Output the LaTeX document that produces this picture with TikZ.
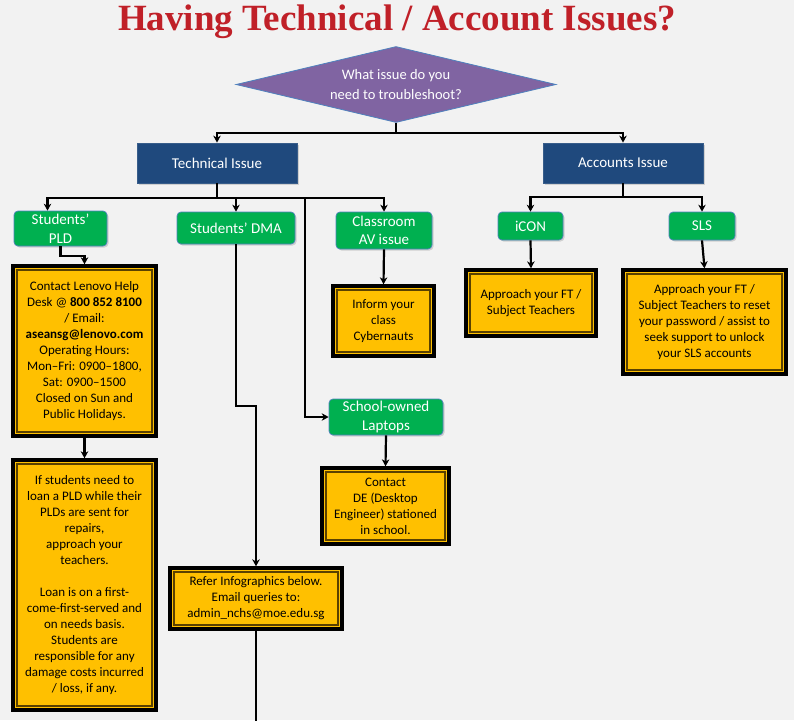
\documentclass[tikz,border=0pt]{standalone}
\usepackage{fontspec}
\setmainfont{Carlito}
\newfontfamily\titlefont{Liberation Serif}
\usetikzlibrary{arrows.meta,shapes.geometric,shadows}
\definecolor{bg}{HTML}{F2F2F2}
\definecolor{titlered}{RGB}{192,32,40}
\definecolor{qpurple}{HTML}{8064A2}
\definecolor{qborder}{HTML}{4F81BD}
\definecolor{dblue}{HTML}{1F497D}
\definecolor{dblueb}{HTML}{385D8A}
\definecolor{gbox}{HTML}{00B050}
\definecolor{ybox}{HTML}{FFC000}
\definecolor{innerc}{RGB}{90,65,0}
\tikzset{
  question/.style={diamond, draw=qborder, line width=0.8pt, fill=qpurple, text=white,
    aspect=4.2, inner sep=0pt, minimum width=320pt, minimum height=76pt, align=center,
    font=\fontsize{14.5}{20}\selectfont},
  catbox/.style={rectangle, draw=dblueb, line width=0.8pt, fill=dblue, text=white,
    minimum width=160pt, minimum height=40pt, font=\fontsize{15}{18}\selectfont,
    drop shadow={shadow xshift=1.5pt, shadow yshift=-1.5pt, opacity=0.3}},
  subbox/.style={rectangle, rounded corners=4pt, draw=qborder, line width=0.7pt, fill=gbox,
    text=white, align=center, inner sep=2pt, font=\fontsize{15}{18.5}\selectfont,
    drop shadow={shadow xshift=1.5pt, shadow yshift=-1.5pt, opacity=0.3}},
  infobox/.style={rectangle, draw=black, line width=3.5pt, fill=ybox, text=black,
    align=center, inner sep=2pt, outer sep=0pt, font=\fontsize{13}{16}\selectfont,
    drop shadow={shadow xshift=2pt, shadow yshift=-2pt, opacity=0.35}},
  innerline/.style={draw=innerc, line width=1.1pt},
  conn/.style={draw=black, line width=2.2pt},
  arr/.style={conn, -{Stealth[length=7pt,width=7.5pt]}},
}
\begin{document}
\begin{tikzpicture}[x=1pt,y=-1pt]
\fill[bg] (0,0) rectangle (794,720);
\useasboundingbox (0,0) rectangle (794,720);

\node[font=\titlefont\bfseries\fontsize{37}{40}\selectfont, text=titlered, anchor=base] (title) at (397,30) {Having Technical / Account Issues?};

\node[question] (q) at (396,84.5) {What issue do you\\need to troubleshoot?};

\node[catbox] (tech) at (217,163) {Technical Issue};
\node[catbox] (acc) at (623,163) {Accounts Issue};

\node[subbox, minimum width=93pt, minimum height=35pt] (pld) at (60.5,228.5) {Students'\\PLD};
\node[subbox, minimum width=118pt, minimum height=32pt] (dma) at (236,228) {Students' DMA};
\node[subbox, minimum width=96pt, minimum height=37pt] (av) at (384,230.5) {Classroom\\AV issue};
\node[subbox, minimum width=114pt, minimum height=36pt] (lap) at (386,417) {School-owned\\Laptops};
\node[subbox, minimum width=65pt, minimum height=28pt] (icon) at (530.5,226) {iCON};
\node[subbox, minimum width=66pt, minimum height=28pt] (sls) at (702,226) {SLS};

\node[infobox, minimum width=143pt, minimum height=170pt] (lenovo) at (84.5,351)
  {Contact Lenovo Help\\Desk @ \textbf{800 852 8100}\\/ Email:\\\textbf{aseansg@lenovo.com}\\Operating Hours:\\Mon–Fri: 0900–1800,\\Sat: 0900–1500\\Closed on Sun and\\Public Holidays.};
\node[infobox, minimum width=143pt, minimum height=250pt] (loan) at (84.5,585)
  {If students need to\\loan a PLD while their\\PLDs are sent for\\repairs,\\approach your\\teachers.\\[16pt]Loan is on a first-\\come-first-served and\\on needs basis.\\Students are\\responsible for any\\damage costs incurred\\/ loss, if any.};
\node[infobox, minimum width=172pt, minimum height=61pt] (dmabox) at (256,598.5)
  {Refer Infographics below.\\Email queries to:\\admin\_nchs@moe.edu.sg};
\node[infobox, minimum width=101pt, minimum height=70pt] (inform) at (383.5,321)
  {Inform your\\class\\Cybernauts};
\node[infobox, minimum width=127pt, minimum height=76pt] (de) at (385.5,506)
  {Contact\\DE (Desktop\\Engineer) stationed\\in school.};
\node[infobox, minimum width=130pt, minimum height=66pt] (iconbox) at (531,303)
  {Approach your FT /\\Subject Teachers};
\node[infobox, minimum width=163pt, minimum height=104pt] (slsbox) at (704.5,322)
  {Approach your FT /\\Subject Teachers to reset\\your password / assist to\\seek support to unlock\\your SLS accounts};

\foreach \n in {lenovo,loan,dmabox,inform,de,iconbox,slsbox}
  \draw[innerline] ([shift={(4,4)}]\n.north west) rectangle ([shift={(-4,-4)}]\n.south east);

% connectors
\coordinate (j0) at (396,133);
\coordinate (j1) at (217,198);
\coordinate (j2) at (623,197);
\coordinate (k) at (305,198);
\coordinate (dmaend) at (256,722);

\draw[conn] (q.south) -- (j0);
\draw[arr] (j0) -| (tech.north);
\draw[arr] (j0) -| (acc.north);

\draw[conn] (tech.south) -- (j1);
\draw[arr] (j1) -| ([xshift=-13pt]pld.north);
\draw[arr] (j1) -| (dma.north);
\draw[arr] (j1) -| (av.north);
\draw[arr] (j1) -- (k) |- (lap.west);

\draw[arr] (pld.south) -- ++(0,10) -| ([yshift=1.7pt]lenovo.north);
\draw[arr] (lenovo.south) -- ([yshift=1.7pt]loan.north);
\draw[arr] (dma.south) -- ++(0,162) -| ([yshift=1.7pt]dmabox.north);
\draw[conn] (dmabox.south) -- (dmaend);
\draw[arr] (av.south) -- ([yshift=1.7pt]inform.north);
\draw[arr] (lap.south) -- ([yshift=1.7pt]de.north);

\draw[conn] (acc.south) -- (j2);
\draw[arr] (j2) -| (icon.north);
\draw[arr] (j2) -| (sls.north);
\draw[arr] (icon.south) -- ([yshift=1.7pt]iconbox.north);
\draw[arr] (sls.south) -- ([yshift=1.7pt]slsbox.north);
\end{tikzpicture}
\end{document}
